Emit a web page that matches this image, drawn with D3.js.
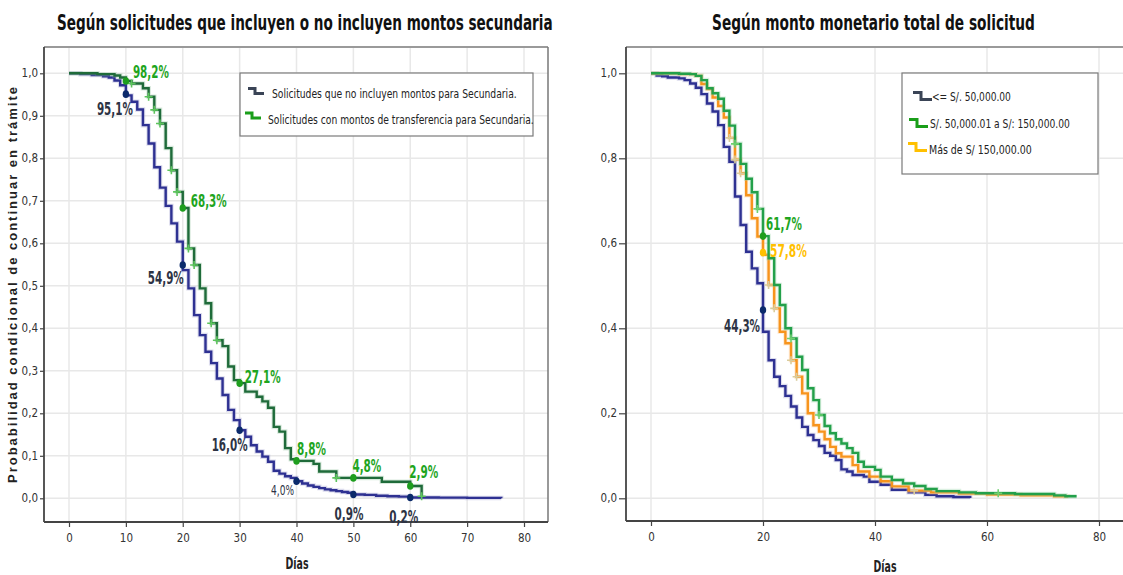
<!DOCTYPE html>
<html>
<head>
<meta charset="utf-8">
<script src="https://cdn.jsdelivr.net/npm/d3@7"></script>
<style>
  body { margin: 0; background: #fff; }
  svg { display: block; }
  text { font-family: "Liberation Sans Narrow", "Arial Narrow", "DejaVu Sans Condensed", sans-serif; }
</style>
</head>
<body>
<svg id="chart" width="1123" height="575"></svg>
<script>
// ---- Left panel: requests with / without secondary-level amounts ----
const noSecDays = [0,2,4,6,7,8,9,10,11,12,13,14,15,16,17,18,19,20,21,22,23,24,25,26,27,28,29,30,31,32,33,34,35,36,37,38,39,40,41,42,43,44,45,46,47,48,49,50,52,54,56,58,60,65,70,76];
const noSecSurv = [1.000,0.998,0.996,0.993,0.990,0.983,0.972,0.948,0.933,0.915,0.878,0.835,0.779,0.731,0.688,0.647,0.604,0.537,0.494,0.431,0.384,0.345,0.318,0.282,0.243,0.208,0.184,0.160,0.145,0.125,0.110,0.098,0.086,0.065,0.058,0.052,0.048,0.040,0.035,0.030,0.027,0.024,0.021,0.019,0.017,0.015,0.013,0.009,0.008,0.006,0.005,0.004,0.002,0.0015,0.001,0.000];

const withSecDays = [0,5,8,9,10,11,13,14,15,16,17,18,19,20,21,22,23,24,25,26,27,28,29,30,31,33,34,35,36,37,38,39,40,43,44,47,55,60,62];
const withSecSurv = [1.000,0.998,0.995,0.990,0.982,0.976,0.965,0.945,0.914,0.882,0.824,0.772,0.721,0.683,0.588,0.549,0.494,0.459,0.412,0.372,0.358,0.310,0.278,0.271,0.251,0.239,0.228,0.213,0.168,0.157,0.118,0.092,0.088,0.081,0.063,0.048,0.039,0.029,0.005];
const withSecCensored = [11,14,15,16,18,19,21,22,25,26,47,62];

const leftMarkDays = [10,20,30,40,50,60];
const noSecMarkVals = [0.951,0.549,0.160,0.040,0.009,0.002];
const withSecMarkVals = [0.982,0.683,0.271,0.088,0.048,0.029];

const leftLegend = ["Solicitudes que no incluyen montos para Secundaria.",
                    "Solicitudes con montos de transferencia para Secundaria."];

// ---- Right panel: by total requested amount ----
const lowDays = [0,1,2,3,5,6,7,8,9,10,11,12,13,14,15,16,17,18,19,20,21,22,23,24,25,26,27,28,29,30,31,32,33,34,35,36,38,39,41,43,46,49,51,54,57];
const lowSurv = [1.000,0.995,0.993,0.990,0.988,0.984,0.976,0.966,0.951,0.929,0.910,0.878,0.827,0.792,0.710,0.643,0.580,0.541,0.506,0.392,0.325,0.286,0.264,0.241,0.216,0.190,0.168,0.149,0.137,0.123,0.107,0.100,0.090,0.068,0.063,0.055,0.051,0.039,0.032,0.020,0.014,0.008,0.005,0.003,0.001];

const midDays = [0,5,7,8,9,10,11,12,13,14,15,16,17,18,19,20,21,22,23,24,25,26,27,28,29,30,31,32,33,34,35,36,37,38,40,41,43,45,47,49,51,55,58,65,72,74,76];
const midSurv = [1.000,0.999,0.998,0.994,0.984,0.965,0.953,0.940,0.912,0.877,0.834,0.787,0.752,0.720,0.681,0.617,0.565,0.502,0.455,0.400,0.376,0.333,0.302,0.259,0.231,0.196,0.170,0.153,0.139,0.129,0.118,0.107,0.086,0.074,0.067,0.051,0.043,0.035,0.029,0.022,0.017,0.014,0.012,0.010,0.007,0.005,0.005];
const midCensored = [15,19,25,30,62];

const highDays = [0,5,8,9,10,11,12,13,14,15,16,17,18,19,20,21,22,23,24,25,26,27,28,29,30,31,32,33,34,36,37,39,41,43,46,50,55,60,66,72,74.5];
const highSurv = [1.000,0.998,0.994,0.975,0.963,0.943,0.923,0.896,0.848,0.797,0.765,0.713,0.659,0.616,0.573,0.502,0.447,0.392,0.365,0.325,0.286,0.247,0.200,0.172,0.157,0.139,0.121,0.106,0.098,0.078,0.063,0.051,0.040,0.028,0.018,0.014,0.011,0.009,0.007,0.005,0.004];
const highCensored = [14,15,16,21,22,25,26,47];

const rightMarkDay = 20;
const lowMarkVal = 0.443, midMarkVal = 0.617, highMarkVal = 0.578;

const rightLegend = ["<= S/. 50,000.00", "S/. 50,000.01 a S/: 150,000.00", "Más de S/ 150,000.00"];

const yTicksLeft = [0,0.1,0.2,0.3,0.4,0.5,0.6,0.7,0.8,0.9,1.0];
const xTicksLeft = [0,10,20,30,40,50,60,70,80];
const yTicksRight = [0,0.2,0.4,0.6,0.8,1.0];
const xTicksRight = [0,20,40,60,80];

// ---- styling ----
const NAVY = "#2e3192", DKGREEN = "#1f6b3a", GREEN = "#23a04a", ORANGE = "#f7941d";
const LBL_GREEN = "#1ea51e", LBL_NAVY = "#2d3344", LBL_GOLD = "#ffc000";
const comma = v => d3.format(".1f")(v).replace(".", ",");
const pct = v => (v * 100).toFixed(1).replace(".", ",") + "%";

const svg = d3.select("#chart");

// squeeze a text horizontally to a given width around its anchor point
function fitText(sel, width) {
  const L = sel.node().getComputedTextLength();
  const x = +sel.attr("x"), y = +sel.attr("y");
  sel.attr("x", 0).attr("y", 0)
    .attr("transform", `translate(${x},${y}) scale(${(width / L).toFixed(4)},1)`);
  return sel;
}

function panel(cfg) {
  const g = svg.append("g");
  const x = d3.scaleLinear().domain([0, 80]).range(cfg.xRange);
  const y = d3.scaleLinear().domain([0, 1]).range([498.3, 73.3]);
  const f = cfg.frame; // [left, top, right, bottom]

  // grid
  g.append("g").selectAll("line").data(cfg.xTicks).join("line")
    .attr("x1", d => x(d)).attr("x2", d => x(d)).attr("y1", f[1]).attr("y2", f[3])
    .attr("stroke", "#e8e8e8").attr("stroke-width", 1.5);
  g.append("g").selectAll("line").data(cfg.gridY).join("line")
    .attr("x1", f[0]).attr("x2", f[2]).attr("y1", d => y(d)).attr("y2", d => y(d))
    .attr("stroke", "#e8e8e8").attr("stroke-width", 1.5);

  // frame
  g.append("line").attr("x1", f[0]).attr("x2", f[2]).attr("y1", f[1]).attr("y2", f[1])
    .attr("stroke", "#9a9a9a").attr("stroke-width", 2);
  g.append("line").attr("x1", f[2]).attr("x2", f[2]).attr("y1", f[1]).attr("y2", f[3])
    .attr("stroke", "#777").attr("stroke-width", 1.5);

  // axes
  const ya = d3.axisLeft(y).tickValues(cfg.yTicks).tickFormat(comma).tickSize(cfg.tickLen).tickPadding(2);
  const yg = g.append("g").attr("transform", `translate(${f[0]},0)`).call(ya);
  const xa = d3.axisBottom(x).tickValues(cfg.xTicks).tickFormat(d3.format("d")).tickSize(5).tickPadding(7);
  const xg = g.append("g").attr("transform", `translate(0,${f[3]})`).call(xa);
  [yg, xg].forEach(a => {
    a.select(".domain").remove();
    a.selectAll(".tick line").attr("stroke", "#444").attr("stroke-width", 1.2);
    a.selectAll(".tick text").attr("fill", "#333").style("font-size", "11.5px");
  });
  g.append("line").attr("x1", f[0]).attr("x2", f[0]).attr("y1", f[1]).attr("y2", f[3])
    .attr("stroke", "#444").attr("stroke-width", 1.8);
  g.append("line").attr("x1", f[0]).attr("x2", f[2]).attr("y1", f[3]).attr("y2", f[3])
    .attr("stroke", "#444").attr("stroke-width", 1.8);

  const line = d3.line().x(d => x(d[0])).y(d => y(d[1])).curve(d3.curveStepAfter);
  const stepValue = (days, surv, t) => surv[d3.bisectRight(days, t) - 1];

  cfg.series.forEach(s => {
    const pts = d3.zip(s.days, s.surv);
    g.append("path").attr("d", line(pts)).attr("fill", "none")
      .attr("stroke", s.halo).attr("stroke-width", 4.5).attr("stroke-opacity", 0.35);
    g.append("path").attr("d", line(pts)).attr("fill", "none")
      .attr("stroke", s.color).attr("stroke-width", 2.4);
    (s.censored || []).forEach(t => {
      const cx = x(t), cy = y(stepValue(s.days, s.surv, t));
      g.append("path").attr("d", `M${cx - 4},${cy}h8M${cx},${cy - 4}v8`)
        .attr("stroke", s.censorColor).attr("stroke-width", 1.6);
    });
  });

  // labelled points
  cfg.marks.forEach(m => {
    g.append("ellipse").attr("cx", x(m.day)).attr("cy", y(m.val)).attr("rx", 3.2).attr("ry", 3.8)
      .attr("fill", m.dot);
    const t = g.append("text").attr("x", x(m.day) + m.dx).attr("y", y(m.val) + m.dy)
      .attr("text-anchor", m.anchor).attr("fill", m.color)
      .style("font-size", m.size + "px").style("font-weight", m.weight)
      .text(pct(m.val));
    fitText(t, m.w);
  });

  // title
  fitText(g.append("text").attr("x", cfg.title.x).attr("y", 30)
    .style("font-size", "21px").style("font-weight", "bold").attr("fill", "#111")
    .text(cfg.title.text), cfg.title.w);
  // x axis title
  fitText(g.append("text").attr("x", cfg.xTitle[0]).attr("y", cfg.xTitle[1]).attr("text-anchor", "middle")
    .style("font-size", "15px").style("font-weight", "bold").attr("fill", "#222").text("Días"), 23);

  // legend
  const L = cfg.legend;
  g.append("rect").attr("x", L.box[0]).attr("y", L.box[1]).attr("width", L.box[2]).attr("height", L.box[3])
    .attr("fill", "#fff").attr("stroke", "#7a7a7a").attr("stroke-width", 1.2);
  L.items.forEach((it, i) => {
    const sx = L.sym[i][0], sy = L.sym[i][1];
    g.append("path").attr("d", `M${sx},${sy}h${L.symW[0]}v${L.symW[1]}h${L.symW[2]}`)
      .attr("fill", "none").attr("stroke", L.colors[i]).attr("stroke-width", 3);
    fitText(g.append("text").attr("x", L.text[i][0]).attr("y", L.text[i][1])
      .style("font-size", L.size + "px").attr("fill", "#222").text(it), L.text[i][2]);
  });
  return { x, y };
}

// left panel
panel({
  xRange: [69, 524], frame: [44, 47, 548, 522],
  xTicks: xTicksLeft, yTicks: yTicksLeft, gridY: yTicksLeft, tickLen: 4,
  series: [
    { days: noSecDays, surv: noSecSurv, color: NAVY, halo: "#9a9ccc" },
    { days: withSecDays, surv: withSecSurv, color: DKGREEN, halo: "#8fbf9c",
      censored: withSecCensored, censorColor: "#5cc45c" }
  ],
  marks: [
    ...leftMarkDays.map((d, i) => ({ day: d, val: noSecMarkVals[i], dot: "#0b2a6b", color: LBL_NAVY,
      size: i === 3 ? 14 : 18, weight: i === 3 ? "normal" : "bold", w: i === 3 ? 23 : (i >= 4 ? 29 : 36),
      anchor: "end", dx: [7, 1, 8, -2.5, 10, 8][i], dy: [21, 19, 21, 14, 25.5, 25.5][i] })),
    ...leftMarkDays.map((d, i) => ({ day: d, val: withSecMarkVals[i], dot: "#1e9e1e", color: LBL_GREEN,
      size: 18, weight: "bold", w: i >= 3 ? 29 : 36,
      anchor: "start", dx: [7, 8, 5, 0.5, -1, -1][i], dy: [-3, -1, 0, -6, -6, -8][i] }))
  ],
  title: { x: 57, w: 496, text: "Según solicitudes que incluyen o no incluyen montos secundaria" },
  xTitle: [297, 569],
  legend: {
    box: [240, 73, 293, 63], items: leftLegend, size: 12.5,
    colors: ["#3a4456", "#1a9e1a"],
    sym: [[248, 88.5], [245, 113]], symW: [7, 5, 9],
    text: [[272, 97.5, 245], [268, 124, 266]]
  }
});

// right panel
panel({
  xRange: [651, 1099], frame: [626, 47, 1126, 521],
  xTicks: xTicksRight, yTicks: yTicksRight, gridY: yTicksRight, tickLen: 7,
  series: [
    { days: lowDays, surv: lowSurv, color: NAVY, halo: "#9a9ccc" },
    { days: highDays, surv: highSurv, color: ORANGE, halo: "#fbc98e",
      censored: highCensored, censorColor: "#d9cc9c" },
    { days: midDays, surv: midSurv, color: GREEN, halo: "#98d3a8",
      censored: midCensored, censorColor: "#6fd06f" }
  ],
  marks: [
    { day: rightMarkDay, val: midMarkVal, dot: "#1e9e1e", color: LBL_GREEN, size: 18, weight: "bold", w: 36, anchor: "start", dx: 3, dy: -6 },
    { day: rightMarkDay, val: highMarkVal, dot: "#ffc000", color: LBL_GOLD, size: 18, weight: "bold", w: 37, anchor: "start", dx: 7, dy: 4 },
    { day: rightMarkDay, val: lowMarkVal, dot: "#0b2a6b", color: LBL_NAVY, size: 18, weight: "bold", w: 36, anchor: "end", dx: -3, dy: 22 }
  ],
  title: { x: 712, w: 323, text: "Según monto monetario total de solicitud" },
  xTitle: [885, 572],
  legend: {
    box: [902, 73, 196, 101], items: rightLegend, size: 13,
    colors: ["#3a4456", "#1a9e1a", "#ffc000"],
    sym: [[913, 92.5], [909, 119.5], [908, 143.5]], symW: [8, 7, 11],
    text: [[932, 101, 79], [930, 128, 140], [929, 154, 103]]
  }
});

// shared y-axis title
svg.append("text")
  .attr("transform", "translate(17,285) rotate(-90)")
  .attr("text-anchor", "middle").attr("textLength", 396).attr("lengthAdjust", "spacing")
  .style("font-family", "'Liberation Sans', Arial, sans-serif")
  .style("font-size", "13px").style("font-weight", "bold").attr("fill", "#222")
  .text("Probabilidad condicional de continuar en trámite");
</script>
</body>
</html>
